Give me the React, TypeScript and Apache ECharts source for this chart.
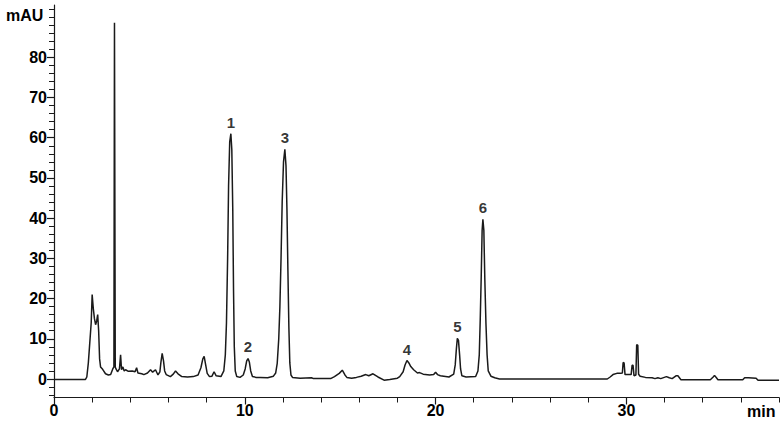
import React, { useEffect, useRef } from "react";
import * as echarts from "echarts";

// Chromatogram trace: [time (min), absorbance (mAU)]
const trace: [number, number][] = [
  [0, -0.1], [1.65, -0.1], [1.72, 0.5], [1.8, 4], [1.86, 8], [1.95, 14], [2.0, 21], [2.06, 17.5],
  [2.12, 15], [2.18, 13.5], [2.24, 14.5], [2.29, 16], [2.34, 12], [2.39, 5], [2.44, 3], [2.55, 2.4],
  [2.7, 1.3], [2.85, 1.0], [2.97, 1.1], [3.08, 2.5], [3.14, 3], [3.17, 88.6], [3.21, 3], [3.25, 2.5],
  [3.33, 1.8], [3.43, 2.5], [3.49, 6.0], [3.54, 2.3], [3.61, 3.0], [3.68, 2.0], [3.75, 2.3], [3.9, 1.9],
  [4.1, 2.0], [4.25, 1.8], [4.33, 2.8], [4.4, 1.5], [4.6, 1.3], [4.71, 1.1], [4.9, 1.5], [5.06, 2.3],
  [5.17, 1.7], [5.32, 2.3], [5.45, 1.0], [5.55, 1.8], [5.6, 4.0], [5.67, 6.4], [5.74, 4.5], [5.8, 2],
  [5.88, 1.1], [6.1, 0.6], [6.25, 1.2], [6.37, 2.0], [6.5, 1.3], [6.7, 0.6], [7.0, 0.5], [7.3, 0.6],
  [7.55, 1.0], [7.7, 2.8], [7.8, 5], [7.87, 5.6], [7.95, 3.5], [8.03, 1.4], [8.15, 0.6], [8.28, 0.7],
  [8.39, 1.8], [8.5, 0.8], [8.75, 0.6], [8.9, 2.0], [8.98, 6], [9.04, 14], [9.1, 30], [9.15, 48],
  [9.21, 59], [9.27, 61], [9.32, 57], [9.37, 42], [9.41, 22], [9.45, 8], [9.5, 2.0], [9.58, 0.6],
  [9.75, 0.4], [9.92, 1.0], [10.02, 2.5], [10.1, 4.5], [10.17, 5.1], [10.24, 4.2], [10.31, 2.0], [10.4, 0.6],
  [10.6, 0.4], [10.8, 0.4], [11.2, 0.3], [11.5, 0.7], [11.62, 1.5], [11.7, 3.9], [11.78, 10], [11.84, 18],
  [11.9, 30], [11.96, 44], [12.03, 54], [12.1, 57.1], [12.16, 53], [12.21, 42], [12.26, 27], [12.31, 13],
  [12.36, 4], [12.42, 1.0], [12.5, 0.4], [12.9, 0.2], [13.5, 0.3], [13.6, 0.1], [14.0, 0.1], [14.5, 0.1],
  [14.7, 0.6], [14.95, 1.4], [15.11, 2.2], [15.25, 1.0], [15.35, 0.4], [15.6, 0.2], [15.85, 0.4], [16.1, 0.7],
  [16.34, 1.1], [16.5, 0.8], [16.72, 1.3], [16.98, 0.5], [17.3, -0.3], [17.6, -0.1], [18.0, 0.2], [18.12, 0.6],
  [18.3, 1.8], [18.4, 3.5], [18.5, 4.6], [18.6, 4.0], [18.7, 3.1], [18.85, 2.3], [19.05, 1.5], [19.16, 1.6],
  [19.35, 1.2], [19.69, 1.0], [19.9, 1.1], [20.0, 1.7], [20.1, 1.1], [20.25, 0.8], [20.7, 0.5], [20.95, 1.2],
  [21.03, 3.5], [21.09, 7.5], [21.14, 10.1], [21.2, 9.6], [21.26, 6.0], [21.31, 2.5], [21.38, 0.8], [21.6, 0.5],
  [22.1, 0.6], [22.22, 2.0], [22.29, 6], [22.34, 14.7], [22.39, 25], [22.44, 37], [22.48, 39.7], [22.53, 37],
  [22.58, 25], [22.64, 13.8], [22.7, 6], [22.76, 2.0], [22.9, 0.7], [23.1, 0.3], [23.35, 0.0], [29.0, 0.0],
  [29.15, 0.5], [29.3, 1.1], [29.5, 1.4], [29.7, 1.4], [29.79, 1.5], [29.83, 4.1], [29.88, 4.0], [29.93, 1.1],
  [30.25, 1.1], [30.3, 3.4], [30.35, 3.4], [30.4, 0.8], [30.5, 1.0], [30.54, 8.5], [30.6, 8.4], [30.64, 1.2],
  [30.72, 0.7], [31.0, 0.4], [31.35, 0.3], [31.5, 0.1], [31.65, 0.3], [31.8, 0.1], [32.1, 0.6], [32.25, 0.3],
  [32.4, 0.1], [32.6, 0.8], [32.7, 0.8], [32.86, -0.2], [34.4, -0.2], [34.55, 0.5], [34.62, 0.9], [34.72, 0.3],
  [34.8, -0.2], [36.1, -0.2], [36.2, 0.3], [36.4, 0.3], [36.8, 0.2], [36.9, -0.3], [38.0, -0.3],
];

// Numbered peaks
const peakNames = ["1", "2", "3", "4", "5", "6"];
const peakTimes = [9.27, 10.17, 12.1, 18.5, 21.14, 22.48];
const peakHeights = [61, 5.1, 57.1, 4.6, 10.1, 39.7];

// Axis ticks and labels
const yMajorTicks = [0, 10, 20, 30, 40, 50, 60, 70, 80];
const yMinorTicks = [-4, -2, 2, 4, 6, 8, 12, 14, 16, 18, 22, 24, 26, 28, 32, 34, 36, 38, 42, 44, 46, 48,
  52, 54, 56, 58, 62, 64, 66, 68, 72, 74, 76, 78, 82, 84, 86, 88, 90, 92];
const xMajorTicks = [0, 10, 20, 30];
const xMinorTicks = [2, 4, 6, 8, 12, 14, 16, 18, 22, 24, 26, 28, 32, 34, 36, 38];

const FONT = "'Liberation Sans', Arial, sans-serif";
const LINE = "#1a1a1a";

export default function App() {
  const ref = useRef<HTMLDivElement>(null);
  useEffect(() => {
    if (!ref.current) return;
    const chart = echarts.init(ref.current, null, { renderer: "svg" });
    const labelStyle = { color: "#000", fontFamily: FONT, fontWeight: "bold" as const, fontSize: 16 };
    const yBase = { type: "value" as const, min: -4.6, max: 93, position: "left" as const, splitLine: { show: false } };
    const xBase = { type: "value" as const, min: 0, max: 38, position: "bottom" as const, splitLine: { show: false } };
    chart.setOption({
      animation: false,
      backgroundColor: "#fff",
      grid: { left: 54, right: 3, top: 5, bottom: 25.5, containLabel: false },
      xAxis: [
        {
          ...xBase,
          axisLine: { show: true, onZero: false, lineStyle: { color: LINE, width: 1.2 } },
          axisTick: { show: true, inside: false, length: 7, customValues: xMajorTicks, lineStyle: { color: LINE, width: 1.2 } },
          axisLabel: { show: true, customValues: xMajorTicks, margin: 5, ...labelStyle },
        },
        {
          ...xBase,
          axisLine: { show: false, onZero: false },
          axisTick: { show: true, inside: false, length: 5, customValues: xMinorTicks, lineStyle: { color: LINE, width: 1 } },
          axisLabel: { show: false },
        },
      ],
      yAxis: [
        {
          ...yBase,
          axisLine: { show: true, onZero: false, lineStyle: { color: LINE, width: 1.2 } },
          axisTick: { show: true, inside: false, length: 7, customValues: yMajorTicks, lineStyle: { color: LINE, width: 1.2 } },
          axisLabel: { show: true, customValues: yMajorTicks, margin: 7, ...labelStyle },
        },
        {
          ...yBase,
          axisLine: { show: false, onZero: false },
          axisTick: { show: true, inside: false, length: 5, customValues: yMinorTicks, lineStyle: { color: LINE, width: 1 } },
          axisLabel: { show: false },
        },
      ],
      graphic: [
        { type: "text", left: 6, top: 7, style: { text: "mAU", fill: "#000", font: `bold 16px ${FONT}` } },
        { type: "text", left: 747, top: 403, style: { text: "min", fill: "#000", font: `bold 16px ${FONT}` } },
      ],
      series: [
        {
          type: "line",
          data: trace,
          xAxisIndex: 0,
          yAxisIndex: 0,
          showSymbol: false,
          symbol: "none",
          smooth: false,
          lineStyle: { color: LINE, width: 1.5 },
        },
        {
          type: "scatter",
          xAxisIndex: 0,
          yAxisIndex: 0,
          symbolSize: 0,
          data: peakNames.map((n, i) => ({ name: n, value: [peakTimes[i], peakHeights[i]] })),
          label: { show: true, position: "top", distance: 4, formatter: "{b}", ...labelStyle, fontSize: 15 },
          silent: true,
        },
      ],
    });
    return () => chart.dispose();
  }, []);
  return <div ref={ref} style={{ width: 782, height: 423, position: "absolute", left: 0, top: 0 }} />;
}
